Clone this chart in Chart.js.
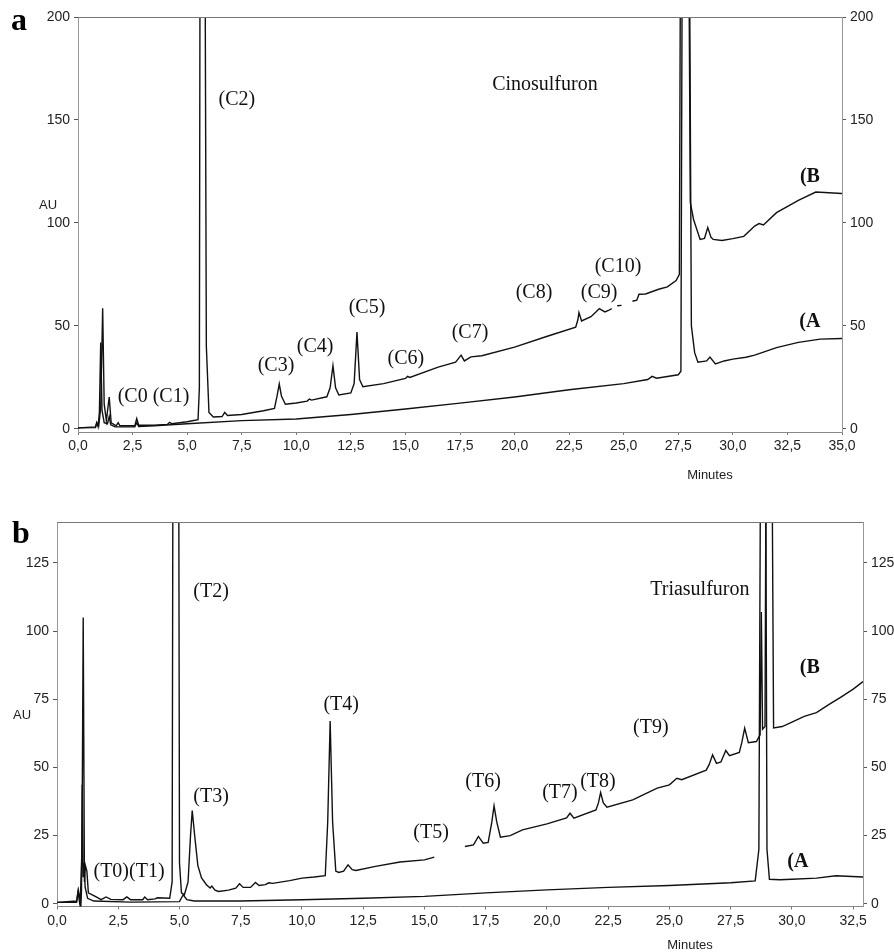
<!DOCTYPE html>
<html>
<head>
<meta charset="utf-8">
<title>Cinosulfuron / Triasulfuron chromatograms</title>
<script src="https://cdn.jsdelivr.net/npm/chart.js@4.4.1/dist/chart.umd.min.js"></script>
<style>
  body { margin: 0; background: #fff; }
  #wrap { position: relative; width: 894px; height: 952px; }
  canvas { position: absolute; left: 0; }
</style>
</head>
<body>
<div id="wrap">
  <canvas id="panelA" width="894" height="480" style="top:0"></canvas>
  <canvas id="panelB" width="894" height="472" style="top:480px"></canvas>
</div>
<script>
// ---- panel a : Cinosulfuron (minutes / AU) ----
const aTimeA = [0, 0.8, 0.86, 0.92, 0.98, 1.04, 1.1, 1.2, 1.35, 1.43, 1.5, 1.7, 2.6, 2.69, 2.78, 3.5, 5, 7.5, 10, 12.5,
  15, 17.5, 20, 22.5, 25, 26.1, 26.3, 26.5, 27.5, 27.62, 27.7, 27.98, 28.1, 28.25, 28.4, 28.8, 28.95, 29.2, 29.6, 30,
  30.6, 31, 32, 33, 34, 35];
const aAuA = [0.5, 0.6, 3, 1, 8, 42, 9, 3, 2.5, 6, 2, 1, 1, 3, 1.2, 1.5, 2.5, 4, 4.8, 7,
  9.7, 12.5, 15.5, 19, 22, 24, 25.5, 24.6, 26.3, 28, 300, 300, 50, 37, 32.4, 33, 34.9, 31.5, 33, 33.9,
  34.8, 35.8, 39.5, 42, 43.6, 43.9];

const aTimeB = [0, 0.8, 0.86, 0.95, 1.04, 1.13, 1.2, 1.3, 1.43, 1.52, 1.75, 1.84, 1.92, 2.6, 2.69, 2.78, 3.5, 4.1, 4.2, 4.3,
  5.0, 5.5, 5.56, 5.6, 5.8, 5.88, 6.0, 6.2, 6.6, 6.72, 6.85, 7.5, 8.5, 9.0, 9.12, 9.22, 9.32, 9.5, 10, 10.5,
  10.6, 10.7, 11.4, 11.55, 11.68, 11.8, 11.95, 12.5, 12.65, 12.78, 12.9, 13.05, 14, 15, 15.1, 15.2, 16.5, 17.3, 17.55, 17.7,
  18, 18.5, 20, 21.5, 22.8, 22.9, 22.95, 23.07, 23.5, 23.75, 23.88, 24.14, 24.3, 24.45, 24.5, 24.7, 24.9, 25.2, 25.4, 25.6,
  25.7, 26, 26.6, 27, 27.4, 27.55, 27.62, 27.95, 28.05, 28.2, 28.5, 28.7, 28.85, 29, 29.1, 29.5, 30, 30.5, 31, 31.2,
  31.4, 32, 33, 33.8, 35];
const aAuB = [0.5, 1, 3, 1.5, 10, 58.6, 12, 4, 15.5, 3, 1.5, 3, 1.5, 1.5, 5, 1.8, 1.8, 2.2, 3.2, 2.5,
  3.5, 4.5, 20, 300, 300, 40, 8, 5.8, 6, 8, 6.5, 7, 8.8, 10, 16, 21.8, 16, 12, 12.6, 13.5,
  14.5, 14, 15.6, 20, 30.7, 20, 16.5, 17.5, 22, 47, 24, 20.5, 22, 24.5, 25.5, 25, 30, 32.4, 35.8, 33,
  35, 35.5, 39.7, 45, 49.4, 53, 56.5, 52.4, 54.5, 57, 58.4, 56.8, 57.5, 58.4, null, 59.8, 60, null, 62, 62.5,
  65.4, 65.5, 67.8, 69, 72, 75, 300, 300, 110, 101.7, 92, 92.5, 97.8, 93, 92, 91.5, 92.4, 93.5, 98.5, 99.7,
  99, 105, 111, 115, 114.3];
const aTicksY = [0, 50, 100, 150, 200];

// ---- panel b : Triasulfuron ----
const bTimeA = [0, 0.8, 0.86, 0.92, 0.97, 1.0, 1.03, 1.07, 1.1, 1.15, 1.25, 1.5, 3, 5, 5.15, 5.3, 5.6, 7.5, 10, 12.5,
  15, 17.5, 20, 22.5, 25, 27.5, 28.5, 28.65, 28.78, 28.88, 28.98, 29.08, 29.5, 30, 31, 31.8, 32.9];
const bAuA = [0.5, 0.5, 4.5, 0.5, -2, 5, 43.6, 10, 15, 6, 2, 1, 0.6, 0.8, 3.3, 1.5, 1, 1, 1.5, 2,
  2.7, 4, 5.1, 6, 6.7, 7.7, 8.4, 20, 300, 300, 20, 9, 8.8, 9, 9.4, 10.3, 9.8];

const bTimeB = [0, 0.8, 0.87, 0.95, 1.02, 1.07, 1.12, 1.16, 1.22, 1.28, 1.5, 1.6, 1.8, 2.0, 2.2, 2.7, 2.85, 3.0, 3.5, 3.58,
  3.7, 4.0, 4.1, 4.6, 4.7, 4.76, 4.94, 5.0, 5.08, 5.2, 5.35, 5.45, 5.52, 5.62, 5.75, 5.9, 6.1, 6.25, 6.32, 6.45,
  6.6, 7.0, 7.3, 7.45, 7.6, 7.9, 8.1, 8.25, 8.5, 8.65, 8.8, 9.5, 10, 10.5, 10.95, 11.05, 11.15, 11.25, 11.38, 11.5,
  11.7, 11.88, 12.05, 12.2, 13, 14, 15, 15.4, 16, 16.65, 17.0, 17.2, 17.4, 17.6, 17.75, 17.84, 17.95, 18.1, 18.5, 19,
  20, 20.8, 20.94, 21.1, 22.0, 22.1, 22.19, 22.3, 22.45, 23.5, 24.5, 25.0, 25.3, 25.5, 26.5, 26.62, 26.76, 26.92, 27.1, 27.3,
  27.45, 27.85, 27.95, 28.07, 28.22, 28.55, 28.7, 28.75, 28.8, 28.9, 29.0, 29.1, 29.25, 29.6, 30, 30.5, 31, 31.5, 32, 32.5,
  32.9];
const bAuB = [0.5, 1, 5, 1, 20, 105, 8, 14, 12, 4, 3, 2.5, 1.5, 2.5, 1.6, 1.5, 2.5, 1.5, 1.5, 2.5,
  1.5, 1.8, 2.2, 2, 8, 300, 300, 15, 4, 3.3, 8, 25, 34.2, 25, 14, 9.5, 7, 5.8, 6.5, 5,
  4.5, 5, 5.7, 7.3, 6, 6, 7.8, 6.7, 7, 7.7, 7.5, 8.5, 9.4, 9.8, 10.3, 30, 67, 30, 12, 11.5,
  12, 14.3, 12.5, 12.2, 13.7, 15.3, 16.1, 17.1, null, 21, 21.6, 24.7, 22.2, 22.5, 30, 35.9, 30, 24.4, 25, 27.1,
  29.3, 31.5, 33.2, 31.4, 34.4, 37, 40.8, 37, 35.4, 38.1, 42.4, 43.6, 46, 45.5, 49, 51, 54.6, 51.5, 52, 56.2,
  54.3, 55.5, 59, 64.4, 59.1, 59.5, 62, 107, 64, 65, 300, 300, 64.5, 65, 66.6, 68.7, 70.1, 73, 75.8, 78.7,
  81.5];
const bTicksY = [0, 25, 50, 75, 100, 125];

// peak labels, placed in (minutes, AU)
const aNotes = [
  {text: "(C0 (C1)", t: 3.46, au: 15.5}, {text: "(C2)", t: 7.28, au: 159.8},
  {text: "(C3)", t: 9.07, au: 30.5}, {text: "(C4)", t: 10.86, au: 39.7},
  {text: "(C5)", t: 13.24, au: 59}, {text: "(C6)", t: 15.02, au: 33.9},
  {text: "(C7)", t: 17.96, au: 46.5}, {text: "(C8)", t: 20.89, au: 65.9},
  {text: "(C9)", t: 23.87, au: 65.9}, {text: "(C10)", t: 24.74, au: 78.5},
  {text: "Cinosulfuron", t: 21.39, au: 167},
  {text: "(B", t: 33.53, au: 122.5, bold: true}, {text: "(A", t: 33.53, au: 51.8, bold: true}
];
const bNotes = [
  {text: "(T0)(T1)", t: 2.94, au: 11.7}, {text: "(T2)", t: 6.29, au: 114.4},
  {text: "(T3)", t: 6.29, au: 39.2}, {text: "(T4)", t: 11.6, au: 73},
  {text: "(T5)", t: 15.27, au: 26}, {text: "(T6)", t: 17.39, au: 44.7},
  {text: "(T7)", t: 20.53, au: 40.7}, {text: "(T8)", t: 22.08, au: 44.7},
  {text: "(T9)", t: 24.24, au: 64.5}, {text: "Triasulfuron", t: 26.24, au: 115},
  {text: "(B", t: 30.73, au: 86.5, bold: true}, {text: "(A", t: 30.24, au: 15.4, bold: true}
];

Chart.defaults.font.family = '"Liberation Sans", Arial, sans-serif';
Chart.defaults.font.size = 14;
Chart.defaults.color = '#222';

const pts = (ts, vs) => ts.map((t, i) => ({x: t, y: vs[i]}));
const comma = v => v.toFixed(1).replace('.', ',');

function makePanel(id, p) {
  const notes = {
    id: 'notes',
    afterDraw(chart) {
      const {ctx, chartArea, scales} = chart;
      ctx.save();
      ctx.strokeStyle = '#777';
      ctx.lineWidth = 1.2;
      ctx.beginPath();
      ctx.moveTo(chartArea.left, chartArea.top + 0.5);
      ctx.lineTo(chartArea.right, chartArea.top + 0.5);
      ctx.stroke();
      ctx.fillStyle = '#111';
      ctx.textAlign = 'center';
      ctx.textBaseline = 'middle';
      p.notes.forEach(n => {
        ctx.font = (n.bold ? 'bold ' : '') + '20px "Liberation Serif", serif';
        ctx.fillText(n.text, scales.x.getPixelForValue(n.t), scales.y.getPixelForValue(n.au));
      });
      ctx.font = '13px "Liberation Sans", Arial, sans-serif';
      ctx.fillStyle = '#222';
      ctx.fillText("Minutes", scales.x.getPixelForValue(p.minutesAt), chartArea.bottom + p.minutesDy);
      ctx.fillText("AU", p.au[0], p.au[1]);
      ctx.font = 'bold 32px "Liberation Serif", serif';
      ctx.fillStyle = '#000';
      ctx.fillText(p.letter, p.letterAt[0], p.letterAt[1]);
      ctx.restore();
    }
  };
  const yAxis = (pos, w) => ({
    type: 'linear', position: pos, min: p.ymin, max: p.ymax,
    afterFit: s => { s.width = w; },
    afterBuildTicks: s => { s.ticks = p.yticks.map(v => ({value: v})); },
    ticks: {padding: 4},
    grid: {drawOnChartArea: false, tickLength: 4, color: '#555'},
    border: {color: '#999', dash: [3, 3]}
  });
  return new Chart(id, {
    type: 'line',
    data: {
      datasets: [
        {label: '(A', data: pts(p.tA, p.vA)},
        {label: '(B', data: pts(p.tB, p.vB)}
      ]
    },
    options: {
      responsive: false,
      animation: false,
      spanGaps: false,
      layout: {padding: {top: p.top, left: 0, right: 0, bottom: 0}},
      elements: {
        line: {borderColor: '#111', borderWidth: 1.4, tension: 0},
        point: {radius: 0}
      },
      plugins: {legend: {display: false}, tooltip: {enabled: false}},
      scales: {
        x: {
          type: 'linear', min: 0, max: p.xmax,
          afterFit: s => { s.height = p.xh; },
          ticks: {stepSize: 2.5, includeBounds: false, padding: 3, maxRotation: 0, callback: comma},
          grid: {drawOnChartArea: false, tickLength: 3, color: '#777'},
          border: {color: '#888', dash: [6, 3]}
        },
        y: yAxis('left', p.lw),
        y2: yAxis('right', p.rw)
      }
    },
    plugins: [notes]
  });
}

makePanel('panelA', {
  tA: aTimeA, vA: aAuA, tB: aTimeB, vB: aAuB, notes: aNotes, yticks: aTicksY,
  xmax: 35, ymin: -1.5, ymax: 200,
  top: 17, xh: 48, lw: 78, rw: 52,
  minutesAt: 28.95, minutesDy: 43, au: [48, 205], letter: 'a', letterAt: [19, 22]
});
makePanel('panelB', {
  tA: bTimeA, vA: bAuA, tB: bTimeB, vB: bAuB, notes: bNotes, yticks: bTicksY,
  xmax: 32.9, ymin: -1, ymax: 140,
  top: 42, xh: 45.5, lw: 57, rw: 31,
  minutesAt: 25.84, minutesDy: 38.5, au: [22, 235], letter: 'b', letterAt: [21, 55]
});
</script>
</body>
</html>
